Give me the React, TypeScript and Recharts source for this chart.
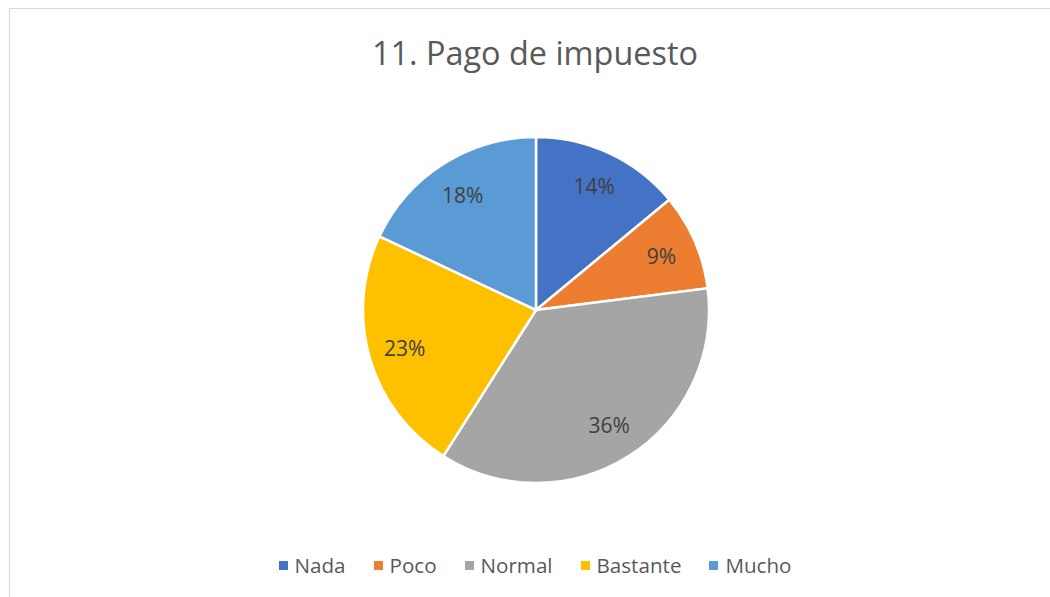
import React from 'react';
import { PieChart, Pie, Cell, Legend } from 'recharts';

const categories = ['Nada', 'Poco', 'Normal', 'Bastante', 'Mucho'];
const percentages = [14, 9, 36, 23, 18];
const colors = ['#4472C4', '#ED7D31', '#A5A5A5', '#FFC000', '#5B9BD5'];

const data = categories.map((name, i) => ({ name, value: percentages[i] }));

const FONT = '"Open Sans", "Noto Sans", sans-serif';
const RADIAN = Math.PI / 180;

const renderLabel = (props: any) => {
  const { cx, cy, midAngle, outerRadius, value } = props;
  const r = outerRadius * 0.79;
  const x = cx + r * Math.cos(-midAngle * RADIAN);
  const y = cy + r * Math.sin(-midAngle * RADIAN);
  return (
    <text x={x} y={y} fill="#404040" fontSize={21} fontFamily={FONT} textAnchor="middle" dominantBaseline="central">
      {value}%
    </text>
  );
};

const renderLegend = () => (
  <div style={{ display: 'flex', justifyContent: 'center', fontFamily: FONT, fontSize: 20.6, color: '#595959' }}>
    {categories.map((c, i) => (
      <div key={c} style={{ display: 'flex', alignItems: 'center', margin: '0 14px' }}>
        <span style={{ width: 9, height: 9, background: colors[i], display: 'inline-block', marginRight: 7 }} />
        <span>{c}</span>
      </div>
    ))}
  </div>
);

const App: React.FC = () => {
  return (
    <div style={{ position: 'fixed', left: 0, top: 0, width: 1050, height: 597, overflow: 'hidden', background: '#fff' }}>
      <div style={{ position: 'absolute', left: 9, top: 8, width: 1200, height: 800, border: '1.5px solid #d9d9d9' }} />
      <div style={{ position: 'absolute', left: 0, top: 30, width: 1070, textAlign: 'center', fontFamily: FONT, fontSize: 32.4, color: '#595959' }}>
        11. Pago de impuesto
      </div>
      <div style={{ position: 'absolute', left: 0, top: 0 }}>
        <PieChart width={1070} height={597}>
          <Pie
            data={data}
            dataKey="value"
            nameKey="name"
            cx={531}
            cy={305}
            outerRadius={173}
            startAngle={90}
            endAngle={-270}
            stroke="#fff"
            strokeWidth={2.5}
            label={renderLabel}
            labelLine={false}
            isAnimationActive={false}
          >
            {data.map((d, i) => (
              <Cell key={d.name} fill={colors[i]} />
            ))}
          </Pie>
          <Legend
            content={renderLegend}
            layout="horizontal"
            verticalAlign="bottom"
            wrapperStyle={{ top: 551, left: 0, width: 1070 }}
          />
        </PieChart>
      </div>
    </div>
  );
};

export default App;
